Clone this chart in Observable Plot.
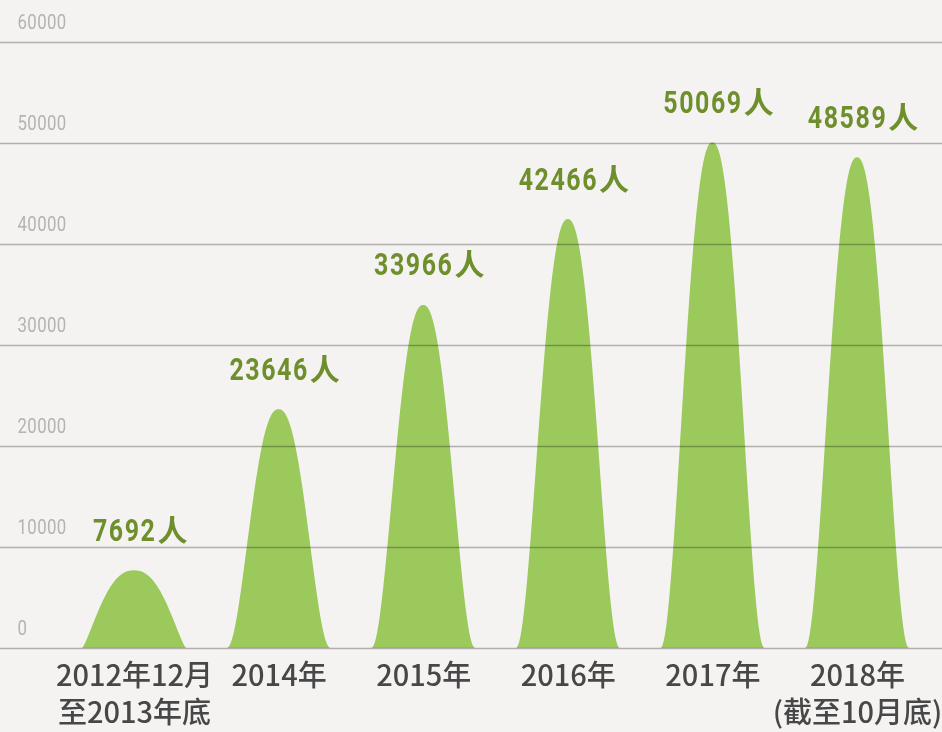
<!DOCTYPE html>
<html><head><meta charset="utf-8">
<script src="https://cdn.jsdelivr.net/npm/d3@7"></script>
<script src="https://cdn.jsdelivr.net/npm/@observablehq/plot@0.6"></script>
<style>
html,body{margin:0;padding:0;background:#f5f3f2;}
#chart{width:942px;height:732px;overflow:hidden;}
</style></head><body><div id="chart"></div>
<script>
const categories = ["2012年12月\n至2013年底", "2014年", "2015年", "2016年", "2017年", "2018年\n(截至10月底)"];
const values = [7692, 23646, 33966, 42466, 50069, 48589];
const valueNumbers = ["7692", "23646", "33966", "42466", "50069", "48589"];
const unit = "人";
const yTicks = [0, 10000, 20000, 30000, 40000, 50000, 60000];

const bars = categories.map((c, i) => ({i, category: c, value: values[i], num: valueNumbers[i]}));

// x domain so that bars sit at their category index
const X0 = -0.9267, X1 = 5.5878, W = 942, PX = W / (X1 - X0);

// bell-shaped glyph outline for each bar (shape only; height = the bar's value)
const HALF = 0.36, STEPS = 90;
const outline = bars.flatMap(b => {
  const a = 2.3, p = b.value < 15000 ? 1.35 : 2.2;
  return d3.range(STEPS + 1).map(k => {
    const t = -1 + 2 * k / STEPS;
    return {key: b.category, x: b.i + t * HALF, y: b.value * Math.pow(Math.max(0, 1 - Math.pow(Math.abs(t), a)), p)};
  });
});

// label layout: number (condensed) followed by the unit, whole label centred slightly right of the bell
const DIGIT = 15.7, UNITW = 31, SHIFT = 6;
const numEnd = d => d.i + (SHIFT + (d.num.length * DIGIT + UNITW) / 2 - UNITW) / PX;

const chart = Plot.plot({
  width: W, height: 732,
  marginTop: 42, marginBottom: 84, marginLeft: 0, marginRight: 0,
  style: {background: "transparent", overflow: "visible"},
  x: {domain: [X0, X1], axis: null},
  y: {domain: [0, 60000], axis: null},
  marks: [
    Plot.areaY(outline, {x: "x", y: "y", z: "key", fill: "#9bc95b", curve: "linear"}),
    Plot.ruleY(yTicks, {stroke: "#b9b9b9", strokeWidth: 1.5, mixBlendMode: "multiply"}),
    Plot.text(yTicks, {y: d => d, text: d => String(d), frameAnchor: "left", textAnchor: "start",
      dx: 17, dy: -20, fill: "#b3b3b3", fontSize: 21, fontFamily: "Roboto, sans-serif"}),
    Plot.text(bars, {x: numEnd, y: "value", text: "num", textAnchor: "end", dy: -30, lineAnchor: "bottom",
      fill: "#6f8f2c", fontSize: 32, fontWeight: "bold", fontFamily: "Roboto, sans-serif"}),
    Plot.text(bars, {x: numEnd, y: "value", text: () => unit, textAnchor: "start", dx: 1, dy: -30, lineAnchor: "bottom",
      fill: "#6f8f2c", fontSize: 30, fontWeight: "bold", fontFamily: "'Noto Sans CJK SC', sans-serif"}),
    Plot.text(bars, {x: "i", y: 0, text: "category", lineAnchor: "top", dy: 11, lineHeight: 1.28,
      fill: "#474747", fontSize: 29, fontWeight: 500, fontFamily: "'Noto Sans CJK SC', sans-serif"})
  ]
});
// condense the numeric fonts horizontally (the original uses a condensed face)
const groups = chart.querySelectorAll("g[aria-label='text']");
function condense(g, s, ls) {
  if (!g) return;
  g.setAttribute("letter-spacing", ls);
  g.querySelectorAll("text").forEach(t => {
    const tr = t.getAttribute("transform") || "";
    t.setAttribute("transform", tr + ` scale(${s},1)`);
  });
}
condense(groups[0], 0.8, 0.5);
condense(groups[1], 0.78, 2);
document.getElementById("chart").append(chart);
</script></body></html>
